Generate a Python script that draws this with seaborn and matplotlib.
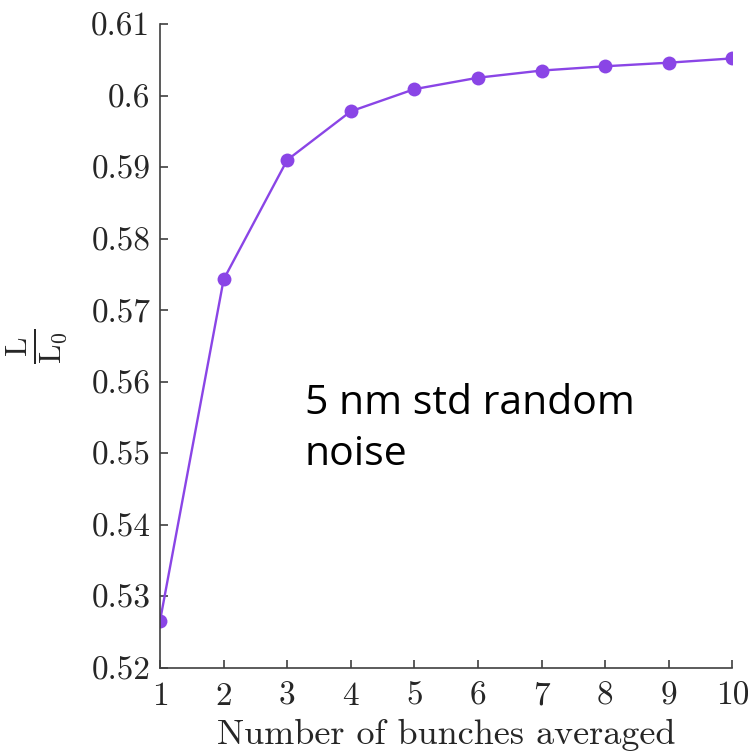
import numpy as np
import matplotlib.pyplot as plt
import pandas as pd
import seaborn as sns

# data
n_bunches = [1, 2, 3, 4, 5, 6, 7, 8, 9, 10]
lumi_ratio = [0.5266, 0.5743, 0.5910, 0.5978, 0.6009, 0.6025, 0.6035, 0.6041, 0.6046, 0.6052]
yticks = [0.52, 0.53, 0.54, 0.55, 0.56, 0.57, 0.58, 0.59, 0.60, 0.61]
ytick_labels = ["0.52", "0.53", "0.54", "0.55", "0.56", "0.57", "0.58", "0.59", "0.6", "0.61"]

sns.set_style("ticks")
plt.rcParams["font.family"] = "serif"
plt.rcParams["font.serif"] = ["cmr10", "DejaVu Serif"]
plt.rcParams["mathtext.fontset"] = "cm"
plt.rcParams["axes.formatter.use_mathtext"] = True
plt.rcParams["axes.edgecolor"] = "#404040"
plt.rcParams["axes.linewidth"] = 1.2
plt.rcParams["xtick.direction"] = "in"
plt.rcParams["ytick.direction"] = "in"

col = "#8a45e6"

fig = plt.figure(figsize=(7.48, 7.52), dpi=100)
ax = fig.add_axes([0.214, 0.112, 0.765, 0.856])

df = pd.DataFrame({"n": n_bunches, "L": lumi_ratio})
sns.lineplot(data=df, x="n", y="L", marker="o", color=col, lw=1.7,
             markersize=10, markeredgewidth=0, ax=ax)

ax.set_xlim(1, 10)
ax.set_ylim(0.52, 0.61)
ax.set_xticks(n_bunches)
ax.set_xticklabels([str(v) for v in n_bunches])
ax.set_yticks(yticks)
ax.set_yticklabels(ytick_labels)
ax.tick_params(axis="both", labelsize=24, length=6, width=1.2, color="#404040",
               labelcolor="#262626")
ax.tick_params(axis="x", pad=10)
ax.tick_params(axis="y", pad=7)

ax.spines["right"].set_visible(False)
ax.spines["top"].set_visible(False)

ax.set_xlabel("Number of bunches averaged", fontsize=26, color="#262626", labelpad=6)
ax.set_ylabel(r"$\frac{\mathrm{L}}{\mathrm{L_0}}$", fontsize=32, color="#262626", labelpad=16)

ax.text(305 / 748, 1 - 383 / 752, "5 nm std random\nnoise", transform=fig.transFigure,
        family="Open Sans", fontsize=29.5, color="black", va="top", ha="left",
        linespacing=1.35)

plt.savefig("out.png", dpi=100)
